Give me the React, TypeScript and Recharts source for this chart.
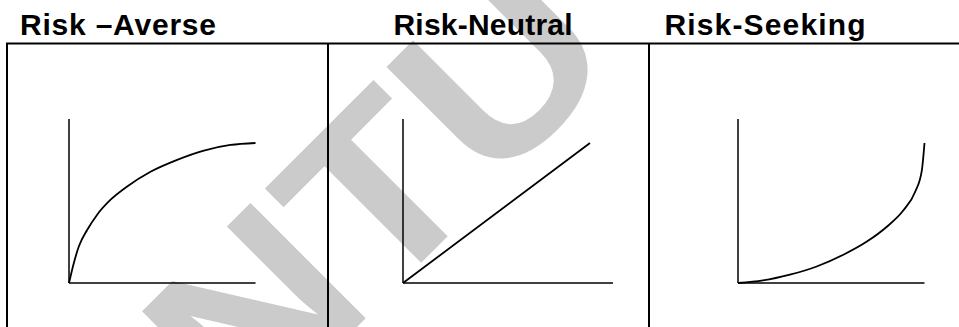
import React from 'react';
import { LineChart, Line, XAxis, YAxis } from 'recharts';

// values, x and y normalised so the curve end is (1, 1)
const AVERSE_X = [0, 0.026, 0.053, 0.098, 0.151, 0.223, 0.312, 0.437, 0.58, 0.723, 0.866, 1];
const AVERSE_Y = [0, 0.143, 0.262, 0.38, 0.488, 0.595, 0.69, 0.795, 0.88, 0.946, 0.986, 1];

const NEUTRAL_X = [0, 1];
const NEUTRAL_Y = [0, 1];

const SEEKING_X = [0, 0.134, 0.278, 0.422, 0.565, 0.691, 0.798, 0.888, 0.95, 0.986, 1];
const SEEKING_Y = [0, 0.018, 0.059, 0.118, 0.202, 0.296, 0.402, 0.521, 0.652, 0.807, 1];

const TITLES = ['Risk –Averse', 'Risk-Neutral', 'Risk-Seeking'];
const WATERMARK = 'NTU';

const WIDTH = 959;
const HEIGHT = 327;
const PAD = 4;

interface PanelProps {
  xs: number[];
  ys: number[];
  left: number;
  top: number;
  plotWidth: number;
  plotHeight: number;
  xMax: number;
  yMax: number;
}

const axisStyle = { stroke: '#000', strokeWidth: 1.5 };

const Panel: React.FC<PanelProps> = ({ xs, ys, left, top, plotWidth, plotHeight, xMax, yMax }) => {
  const data = xs.map((x, i) => ({ x, y: ys[i] }));
  return (
    <div style={{ position: 'absolute', left: left - PAD, top: top - PAD }}>
      <LineChart
        width={plotWidth + PAD * 2}
        height={plotHeight + PAD * 2}
        data={data}
        margin={{ top: PAD, right: PAD, bottom: 0, left: 0 }}
      >
        <XAxis
          dataKey="x"
          type="number"
          domain={[0, xMax]}
          height={PAD}
          tick={false}
          tickLine={false}
          axisLine={axisStyle}
        />
        <YAxis
          type="number"
          domain={[0, yMax]}
          width={PAD}
          tick={false}
          tickLine={false}
          axisLine={axisStyle}
        />
        <Line
          type="monotone"
          dataKey="y"
          stroke="#000"
          strokeWidth={1.8}
          dot={false}
          activeDot={false}
          isAnimationActive={false}
        />
      </LineChart>
    </div>
  );
};

const titleFont = '"Liberation Sans", Arial, sans-serif';

export default function App() {
  // y axis is 164px tall, curve top sits 140px above the origin
  const yMax = 164 / 140;
  return (
    <div
      style={{
        position: 'absolute',
        left: 0,
        top: 0,
        width: WIDTH,
        height: HEIGHT,
        background: '#fff',
        overflow: 'hidden',
      }}
    >
      <svg width={WIDTH} height={HEIGHT} style={{ position: 'absolute', left: 0, top: 0 }}>
        <text
          transform="translate(245,439) rotate(-45) scale(1.1,1)"
          fontFamily={titleFont}
          fontWeight="bold"
          fontSize={237}
          fill="#cbcbcb"
        >
          {WATERMARK}
        </text>
      </svg>

      <Panel xs={AVERSE_X} ys={AVERSE_Y} left={68.5} top={119} plotWidth={186.5} plotHeight={164} xMax={1} yMax={yMax} />
      <Panel xs={NEUTRAL_X} ys={NEUTRAL_Y} left={403} top={119} plotWidth={210} plotHeight={164} xMax={210 / 187} yMax={yMax} />
      <Panel xs={SEEKING_X} ys={SEEKING_Y} left={738.3} top={119} plotWidth={186.5} plotHeight={164} xMax={1} yMax={yMax} />

      <svg
        width={WIDTH}
        height={HEIGHT}
        style={{ position: 'absolute', left: 0, top: 0, pointerEvents: 'none' }}
      >
        <line x1={6} y1={43.5} x2={WIDTH} y2={43.5} stroke="#000" strokeWidth={2} />
        <line x1={7} y1={43.5} x2={7} y2={HEIGHT} stroke="#000" strokeWidth={2} />
        <line x1={328} y1={43.5} x2={328} y2={HEIGHT} stroke="#000" strokeWidth={2} />
        <line x1={649} y1={43.5} x2={649} y2={HEIGHT} stroke="#000" strokeWidth={2} />
        <text x={20} y={35} fontFamily={titleFont} fontWeight="bold" fontSize={30} textLength={196} lengthAdjust="spacing">
          {TITLES[0]}
        </text>
        <text x={393.5} y={35} fontFamily={titleFont} fontWeight="bold" fontSize={30} textLength={179} lengthAdjust="spacing">
          {TITLES[1]}
        </text>
        <text x={664.5} y={35} fontFamily={titleFont} fontWeight="bold" fontSize={30} textLength={201} lengthAdjust="spacing">
          {TITLES[2]}
        </text>
      </svg>
    </div>
  );
}
